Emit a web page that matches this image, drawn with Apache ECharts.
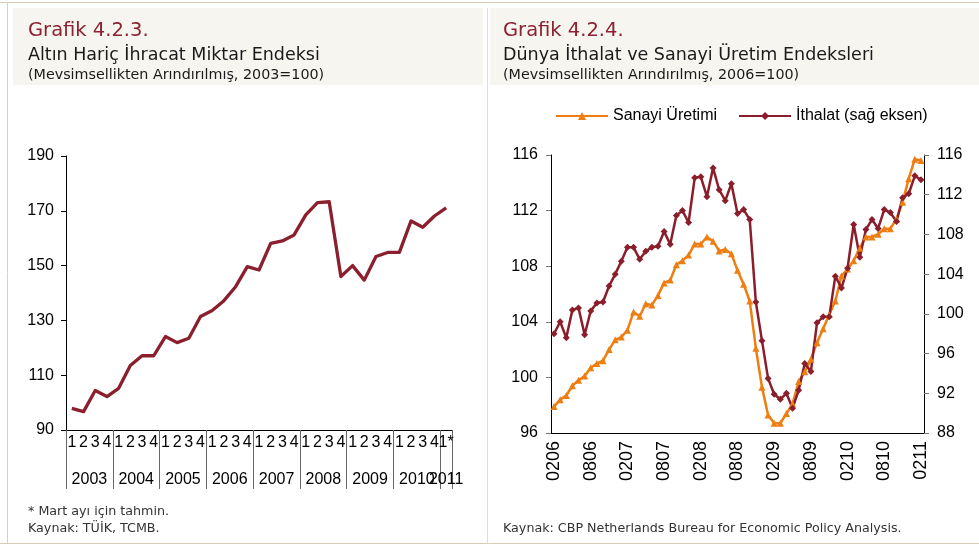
<!DOCTYPE html>
<html>
<head>
<meta charset="utf-8">
<script src="https://cdn.jsdelivr.net/npm/echarts@6/dist/echarts.min.js"></script>
<style>
  html, body { margin: 0; padding: 0; background: #fff; }
  #main { width: 979px; height: 545px; }
</style>
</head>
<body>
<div id="main"></div>
<script>
// Grafik 4.2.3 - quarterly export volume index (2003Q1 - 2011Q1)
var quarterLabels = [
  '1', '2', '3', '4', '1', '2', '3', '4', '1', '2', '3', '4',
  '1', '2', '3', '4', '1', '2', '3', '4', '1', '2', '3', '4',
  '1', '2', '3', '4', '1', '2', '3', '4', '1*'
];
var yearLabels = ['2003', '2004', '2005', '2006', '2007', '2008', '2009', '2010', '2011'];
var exportIndex = [
  97.9, 96.7, 104.4, 102.2, 105.2, 113.5, 117.1, 117.1,
  124.1, 121.9, 123.5, 131.4, 133.6, 137.2, 142.3, 149.6,
  148.4, 158.1, 159.0, 161.2, 168.5, 173.0, 173.3, 146.0,
  150.0, 144.7, 153.3, 154.8, 154.8, 166.3, 164.0, 168.1,
  171.1
];

// Grafik 4.2.4 - monthly, 02/2006 - 02/2011
var monthLabels = [
  '0206', '0306', '0406', '0506', '0606', '0706', '0806', '0906', '1006', '1106', '1206',
  '0107', '0207', '0307', '0407', '0507', '0607', '0707', '0807', '0907', '1007', '1107', '1207',
  '0108', '0208', '0308', '0408', '0508', '0608', '0708', '0808', '0908', '1008', '1108', '1208',
  '0109', '0209', '0309', '0409', '0509', '0609', '0709', '0809', '0909', '1009', '1109', '1209',
  '0110', '0210', '0310', '0410', '0510', '0610', '0710', '0810', '0910', '1010', '1110', '1210',
  '0111', '0211'
];
var industrialProduction = [
  97.9, 98.4, 98.7, 99.4, 99.8, 100.1, 100.7, 101.0, 101.2, 102.0, 102.7,
  102.9, 103.4, 104.7, 104.4, 105.3, 105.2, 105.9, 106.8, 107.0, 108.1, 108.4, 108.8,
  109.6, 109.6, 110.1, 109.8, 109.1, 109.2, 108.9, 107.7, 106.7, 105.5, 102.1, 99.3,
  97.3, 96.7, 96.7, 97.4, 98.1, 99.7, 100.4, 101.3, 102.5, 103.5, 104.5, 105.5,
  107.3, 107.8, 108.4, 109.3, 110.1, 110.1, 110.3, 110.7, 110.7, 111.4, 112.6, 114.3,
  115.7, 115.6
];
var worldImports = [
  98.0, 99.2, 97.6, 100.4, 100.6, 97.9, 100.3, 101.1, 101.2, 102.8, 104.0,
  105.3, 106.7, 106.7, 105.5, 106.3, 106.7, 106.8, 108.3, 107.0, 109.9, 110.4, 109.2,
  113.7, 113.8, 111.8, 114.7, 112.5, 111.4, 113.1, 110.1, 110.5, 109.5, 101.2, 97.3,
  93.5, 91.9, 91.4, 92.0, 90.5, 92.3, 95.0, 94.2, 99.1, 99.7, 99.7, 103.8,
  102.6, 104.6, 109.0, 105.7, 108.5, 109.5, 108.6, 110.5, 110.2, 109.3, 111.7, 112.1,
  113.9, 113.5
];

var titleRed = '#8B2232';
var exportColor = '#8B1F2D';
var prodColor = '#EE7D12';
var importColor = '#8B1E2B';
var axisFont = 'Liberation Sans, Arial, sans-serif';
var textFont = 'DejaVu Sans, sans-serif';

// year label sits in the middle of its quarters (2011 has only one)
var yearAt = {};
var start = 0, y = 0;
for (var i = 1; i <= quarterLabels.length; i++) {
  if (i === quarterLabels.length || quarterLabels[i].charAt(0) === '1') {
    yearAt[(start + i) / 2] = yearLabels[y++];
    start = i;
  }
}

var chart = echarts.init(document.getElementById('main'), null, { renderer: 'canvas' });

function headText(text, left, top, size, color) {
  return {
    text: text,
    left: left,
    top: top,
    padding: 0,
    textStyle: { fontFamily: textFont, fontSize: size, fontWeight: 'normal', color: color }
  };
}

var option = {
  backgroundColor: '#ffffff',
  animation: false,
  graphic: [
    { type: 'rect', shape: { x: 13, y: 8, width: 470, height: 77 }, style: { fill: '#F6F5F0' }, silent: true },
    { type: 'rect', shape: { x: 490, y: 8, width: 489, height: 77 }, style: { fill: '#F6F5F0' }, silent: true },
    { type: 'line', shape: { x1: 0, y1: 2.5, x2: 979, y2: 2.5 }, style: { stroke: '#D8CCB6', lineWidth: 1 }, silent: true },
    { type: 'line', shape: { x1: 7.5, y1: 2, x2: 7.5, y2: 543 }, style: { stroke: '#D6D0C6', lineWidth: 1 }, silent: true },
    { type: 'line', shape: { x1: 487.5, y1: 8, x2: 487.5, y2: 543 }, style: { stroke: '#E2DDD4', lineWidth: 1 }, silent: true },
    { type: 'line', shape: { x1: 0, y1: 543.5, x2: 979, y2: 543.5 }, style: { stroke: '#D8CCB6', lineWidth: 1 }, silent: true }
  ],
  title: [
    headText('Grafik 4.2.3.', 28, 21, 19.5, titleRed),
    headText('Altın Hariç İhracat Miktar Endeksi', 28, 46, 17.5, '#1a1a1a'),
    headText('(Mevsimsellikten Arındırılmış, 2003=100)', 28, 68, 14.3, '#1a1a1a'),
    headText('Grafik 4.2.4.', 503, 21, 19.5, titleRed),
    headText('Dünya İthalat ve Sanayi Üretim Endeksleri', 503, 46, 17.5, '#1a1a1a'),
    headText('(Mevsimsellikten Arındırılmış, 2006=100)', 503, 68, 14.3, '#1a1a1a'),
    headText('* Mart ayı için tahmin.', 28, 505, 12.7, '#333'),
    headText('Kaynak: TÜİK, TCMB.', 28, 522, 12.7, '#333'),
    headText('Kaynak: CBP Netherlands Bureau for Economic Policy Analysis.', 503, 522, 12.7, '#333')
  ],
  legend: {
    left: 555,
    top: 108,
    padding: 0,
    itemWidth: 52,
    itemHeight: 10,
    itemGap: 21,
    textStyle: { fontFamily: axisFont, fontSize: 16, color: '#000' },
    data: ['Sanayi Üretimi', 'İthalat (sağ eksen)']
  },
  grid: [
    { left: 66, top: 156, width: 386, height: 274 },
    { left: 551, top: 155, width: 373, height: 278 }
  ],
  xAxis: [
    {
      gridIndex: 0,
      type: 'category',
      position: 'bottom',
      data: quarterLabels,
      boundaryGap: true,
      axisLine: { lineStyle: { color: '#000', width: 1 } },
      axisTick: { interval: 0, length: 26, lineStyle: { color: '#666' } },
      axisLabel: { interval: 0, margin: 5, fontFamily: axisFont, fontSize: 16, color: '#000' }
    },
    {
      // year labels
      gridIndex: 0,
      type: 'value',
      position: 'bottom',
      min: 0,
      max: quarterLabels.length,
      interval: 0.5,
      axisLine: { show: false },
      axisTick: { show: false },
      splitLine: { show: false },
      axisLabel: {
        margin: 42,
        fontFamily: axisFont,
        fontSize: 16,
        color: '#000',
        formatter: function (v) { return yearAt[v] || ''; }
      }
    },
    {
      // year separators
      gridIndex: 0,
      type: 'value',
      position: 'bottom',
      min: 0,
      max: quarterLabels.length,
      interval: 4,
      axisLine: { show: false },
      axisTick: { length: 59, lineStyle: { color: '#666' } },
      axisLabel: { show: false },
      splitLine: { show: false }
    },
    {
      gridIndex: 1,
      type: 'category',
      position: 'bottom',
      data: monthLabels,
      boundaryGap: true,
      axisLine: { lineStyle: { color: '#000', width: 1 } },
      axisTick: { interval: 5, length: 5, lineStyle: { color: '#888' } },
      axisLabel: { interval: 5, rotate: 90, margin: 8, fontFamily: axisFont, fontSize: 18, color: '#000' }
    }
  ],
  yAxis: [
    {
      gridIndex: 0,
      type: 'value',
      min: 90,
      max: 190,
      interval: 20,
      axisLine: { show: true, lineStyle: { color: '#000', width: 1 } },
      axisTick: { show: true, length: 5, lineStyle: { color: '#000' } },
      splitLine: { show: false },
      axisLabel: { margin: 12, fontFamily: axisFont, fontSize: 16, color: '#000' }
    },
    {
      gridIndex: 1,
      type: 'value',
      position: 'left',
      min: 96,
      max: 116,
      interval: 4,
      axisLine: { show: true, lineStyle: { color: '#000', width: 1 } },
      axisTick: { show: true, length: 5, lineStyle: { color: '#777' } },
      splitLine: { show: false },
      axisLabel: { margin: 13, fontFamily: axisFont, fontSize: 16, color: '#000' }
    },
    {
      gridIndex: 1,
      type: 'value',
      position: 'right',
      min: 88,
      max: 116,
      interval: 4,
      axisLine: { show: true, lineStyle: { color: '#000', width: 1 } },
      axisTick: { show: true, length: 5, lineStyle: { color: '#777' } },
      splitLine: { show: false },
      axisLabel: { margin: 13, fontFamily: axisFont, fontSize: 16, color: '#000' }
    }
  ],
  series: [
    {
      name: 'İhracat Miktar Endeksi',
      type: 'line',
      xAxisIndex: 0,
      yAxisIndex: 0,
      data: exportIndex,
      symbol: 'none',
      lineStyle: { color: exportColor, width: 3.3, join: 'round' },
      itemStyle: { color: exportColor }
    },
    {
      name: 'Sanayi Üretimi',
      type: 'line',
      xAxisIndex: 3,
      yAxisIndex: 1,
      data: industrialProduction,
      symbol: 'triangle',
      symbolSize: 7,
      showAllSymbol: true,
      lineStyle: { color: prodColor, width: 2.5 },
      itemStyle: { color: prodColor }
    },
    {
      name: 'İthalat (sağ eksen)',
      type: 'line',
      xAxisIndex: 3,
      yAxisIndex: 2,
      data: worldImports,
      symbol: 'diamond',
      symbolSize: 7,
      showAllSymbol: true,
      lineStyle: { color: importColor, width: 2.5 },
      itemStyle: { color: importColor }
    }
  ]
};

chart.setOption(option);
</script>
</body>
</html>
